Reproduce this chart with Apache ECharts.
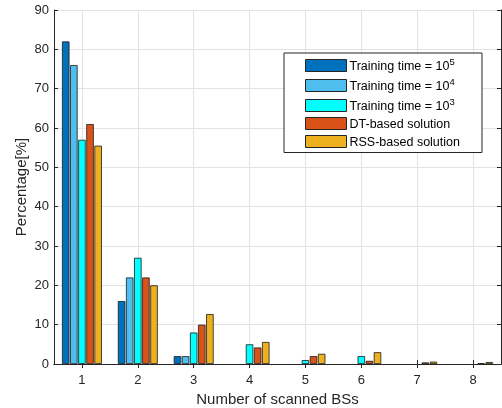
<!DOCTYPE html>
<html>
<head>
<meta charset="utf-8">
<script src="https://cdn.jsdelivr.net/npm/echarts@6/dist/echarts.min.js"></script>
<style>
html,body{margin:0;padding:0;background:#fff;}
#chart{width:502px;height:408px;}
</style>
</head>
<body>
<div id="chart"></div>
<script>
// Number of scanned base stations
const categories = ['1', '2', '3', '4', '5', '6', '7', '8'];

// Percentage of cases per number of scanned BSs
const train1e5 = [82, 16, 2, 0, 0, 0, 0, 0];
const train1e4 = [76, 22, 2, 0, 0, 0, 0, 0];
const train1e3 = [57, 27, 8, 5, 1, 2, 0, 0];
const dtBased = [61, 22, 10, 4.2, 2, 0.8, 0.4, 0.2];
const rssBased = [55.5, 20, 12.7, 5.6, 2.6, 3, 0.6, 0.5];

const yTicks = [0, 10, 20, 30, 40, 50, 60, 70, 80, 90];

const seriesDefs = [
  { name: 'T5', label: '{t|Training time = 10}{s|5}', data: train1e5, color: '#0072BD' },
  { name: 'T4', label: '{t|Training time = 10}{s|4}', data: train1e4, color: '#4DBEEE' },
  { name: 'T3', label: '{t|Training time = 10}{s|3}', data: train1e3, color: '#00FFFF' },
  { name: 'DT', label: '{t|DT-based solution}', data: dtBased, color: '#D95319' },
  { name: 'RSS', label: '{t|RSS-based solution}', data: rssBased, color: '#EDB120' }
];
const labelOf = {};
seriesDefs.forEach(d => { labelOf[d.name] = d.label; });

const font = 'Liberation Sans, Arial, Helvetica, sans-serif';
const axisColor = '#262626';

const chart = echarts.init(document.getElementById('chart'), null, { renderer: 'canvas' });

chart.setOption({
  animation: false,
  backgroundColor: '#fff',
  textStyle: { fontFamily: font },
  grid: { left: 54, right: 1, top: 10, bottom: 44, containLabel: false, outerBoundsMode: 'none' },
  legend: {
    orient: 'vertical',
    left: 284,
    top: 53,
    padding: [4, 22, 3, 21],
    itemGap: 3.5,
    itemWidth: 41,
    itemHeight: 12,
    icon: 'rect',
    backgroundColor: '#fff',
    borderColor: '#262626',
    borderWidth: 1,
    borderRadius: 0,
    data: seriesDefs.map(d => ({ name: d.name, itemStyle: { borderColor: '#262626', borderWidth: 1 } })),
    formatter: n => labelOf[n],
    textStyle: {
      padding: [0, 0, 0, -2],
      rich: {
        t: { fontSize: 12.5, color: '#000', fontFamily: font, padding: [3, 0, 0, 0] },
        s: { fontSize: 9.5, color: '#000', fontFamily: font, verticalAlign: 'top', padding: [0, 0, 7, 0] }
      }
    }
  },
  xAxis: [
    {
      type: 'category',
      data: categories,
      boundaryGap: true,
      name: 'Number of scanned BSs',
      nameLocation: 'middle',
      nameGap: 28,
      nameMoveOverlap: false,
      nameTextStyle: { fontSize: 15, color: axisColor, fontFamily: font },
      axisLine: { show: true, lineStyle: { color: axisColor, width: 1 } },
      axisTick: { show: true, inside: true, length: 4, alignWithLabel: true, lineStyle: { color: axisColor } },
      axisLabel: { fontSize: 13, color: axisColor, margin: 10, fontFamily: font },
      splitLine: { show: true, alignWithLabel: true, lineStyle: { color: '#e3e3e3', width: 1 } }
    },
    {
      type: 'category',
      data: categories,
      position: 'top',
      boundaryGap: true,
      axisLine: { show: true, lineStyle: { color: axisColor, width: 1 } },
      axisTick: { show: true, inside: true, length: 4, alignWithLabel: true, lineStyle: { color: axisColor } },
      axisLabel: { show: false },
      splitLine: { show: false }
    }
  ],
  yAxis: [
    {
      type: 'value',
      min: 0,
      max: 90,
      interval: 10,
      name: 'Percentage[%]',
      nameLocation: 'middle',
      nameGap: 25,
      nameMoveOverlap: false,
      nameTextStyle: { fontSize: 15, color: axisColor, fontFamily: font },
      axisLine: { show: true, lineStyle: { color: axisColor, width: 1 } },
      axisTick: { show: true, inside: true, length: 4, lineStyle: { color: axisColor } },
      axisLabel: {
        fontSize: 13, color: axisColor, margin: 5, fontFamily: font,
        formatter: v => (yTicks.indexOf(v) >= 0 ? String(v) : '')
      },
      splitLine: { show: true, lineStyle: { color: '#e3e3e3', width: 1 } }
    },
    {
      type: 'value',
      min: 0,
      max: 90,
      interval: 10,
      position: 'right',
      axisLine: { show: true, lineStyle: { color: axisColor, width: 1 } },
      axisTick: { show: true, inside: true, length: 4, lineStyle: { color: axisColor } },
      axisLabel: { show: false },
      splitLine: { show: false }
    }
  ],
  series: seriesDefs.map(d => ({
    name: d.name,
    type: 'bar',
    xAxisIndex: 0,
    yAxisIndex: 0,
    // zero-height bars are kept but drawn without an outline
    data: d.data.map(v => (v === 0 ? { value: v, itemStyle: { borderWidth: 0 } } : v)),
    barWidth: 7.5,
    barGap: '8%',
    itemStyle: { color: d.color, borderColor: '#1a1a1a', borderWidth: 0.8 },
    emphasis: { disabled: true }
  }))
});
</script>
</body>
</html>
